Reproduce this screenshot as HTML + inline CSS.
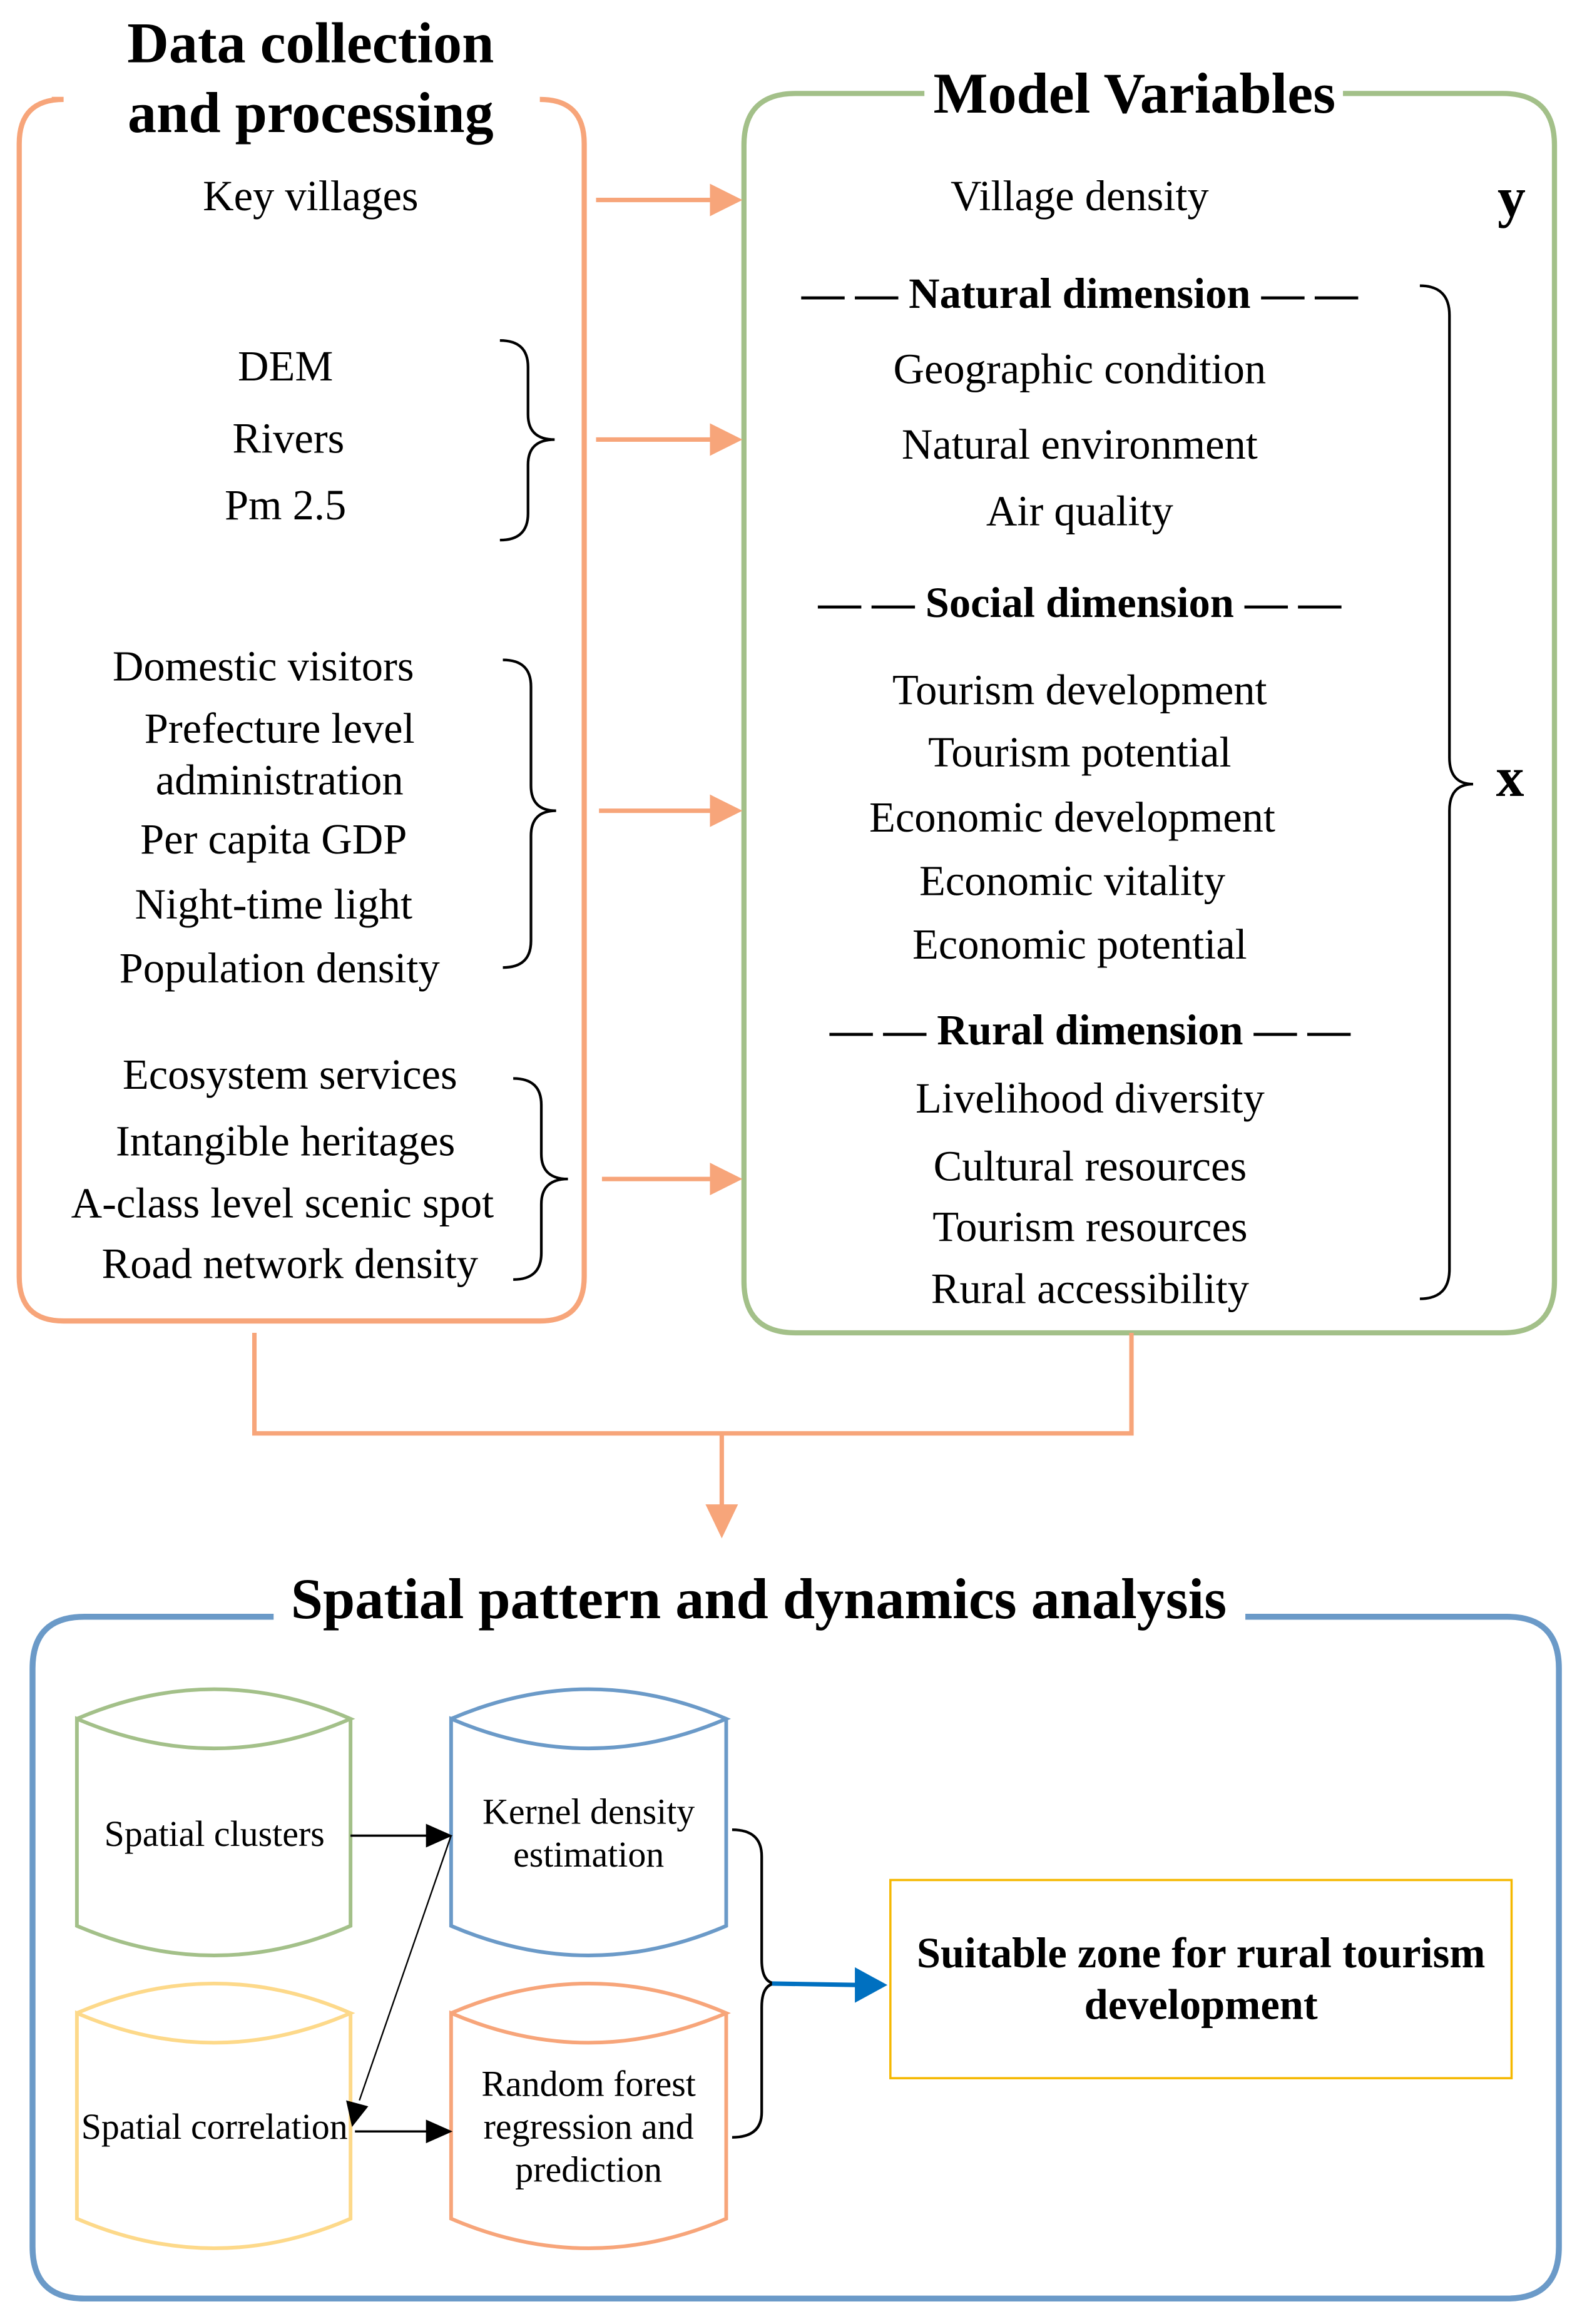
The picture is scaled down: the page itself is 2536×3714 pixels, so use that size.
<!DOCTYPE html>
<html><head><meta charset="utf-8"><style>
html,body{margin:0;padding:0;background:#fff}
svg{display:block}
text{font-family:"Liberation Serif","Times New Roman",serif;fill:#000}
.t{font-size:29px;text-anchor:middle}
.b{font-weight:bold}
.s{font-size:24.5px;text-anchor:middle}
</style></head><body>
<svg width="2536" height="3714" viewBox="0 0 1073 1571" xmlns="http://www.w3.org/2000/svg">
<!-- Orange box -->
<path d="M35,67 L43,67 Q13,67 13,97 L13,863 Q13,893 43,893 L365,893 Q395,893 395,863 L395,97 Q395,67 365,67" fill="none" stroke="#f7a57a" stroke-width="3.5"/>
<text x="210" y="42" class="b" style="font-size:39px;text-anchor:middle">Data collection</text>
<text x="210" y="89" class="b" style="font-size:39px;text-anchor:middle">and processing</text>
<!-- Green box -->
<path d="M625,63 L538,63 Q503,63 503,98 L503,866 Q503,901 538,901 L1016,901 Q1051,901 1051,866 L1051,98 Q1051,63 1016,63 L908,63" fill="none" stroke="#a3c089" stroke-width="3.5"/>
<text x="767" y="76" class="b" style="font-size:39px;text-anchor:middle">Model Variables</text>
<!-- orange arrows -->
<g stroke="#f7a57a" stroke-width="3" fill="#f7a57a">
<line x1="403" y1="135" x2="482" y2="135"/><path d="M480,124 L502,135 L480,146z" stroke="none"/>
<line x1="403" y1="297" x2="482" y2="297"/><path d="M480,286 L502,297 L480,308z" stroke="none"/>
<line x1="405" y1="548" x2="482" y2="548"/><path d="M480,537 L502,548 L480,559z" stroke="none"/>
<line x1="407" y1="797" x2="482" y2="797"/><path d="M480,786 L502,797 L480,808z" stroke="none"/>
</g>
<!-- left texts -->
<text x="210" y="142" class="t">Key villages</text>
<text x="193" y="257" class="t">DEM</text>
<text x="195" y="306" class="t">Rivers</text>
<text x="193" y="351" class="t">Pm 2.5</text>
<text x="178" y="460" class="t">Domestic visitors</text>
<text x="189" y="502" class="t">Prefecture level</text>
<text x="189" y="537" class="t">administration</text>
<text x="185" y="577" class="t">Per capita GDP</text>
<text x="185" y="621" class="t">Night-time light</text>
<text x="189" y="664" class="t">Population density</text>
<text x="196" y="736" class="t">Ecosystem services</text>
<text x="193" y="781" class="t">Intangible heritages</text>
<text x="191" y="823" class="t">A-class level scenic spot</text>
<text x="196" y="864" class="t">Road network density</text>
<!-- braces -->
<g fill="none" stroke="#000" stroke-width="1.8">
<path d="M338,230 Q357,230 357,248 L357,280 Q357,297 375,297 Q357,297 357,314 L357,347 Q357,365 338,365"/>
<path d="M340,446 Q359,446 359,464 L359,531 Q359,548 376,548 Q359,548 359,565 L359,636 Q359,654 340,654"/>
<path d="M347,729 Q366,729 366,747 L366,780 Q366,797 384,797 Q366,797 366,814 L366,847 Q366,865 347,865"/>
<path d="M960,193 Q980,193 980,213 L980,512 Q980,530 996,530 Q980,530 980,548 L980,858 Q980,878 960,878"/>
</g>
<!-- right texts -->
<text x="730" y="142" class="t">Village density</text>
<text x="1022" y="146" class="b" style="font-size:38px;text-anchor:middle">y</text>
<text x="1021" y="538" class="b" style="font-size:38px;text-anchor:middle">x</text>
<text x="730" y="208" class="t b">— — Natural dimension — —</text>
<text x="730" y="259" class="t">Geographic condition</text>
<text x="730" y="310" class="t">Natural environment</text>
<text x="730" y="355" class="t">Air quality</text>
<text x="730" y="417" class="t b">— — Social dimension — —</text>
<text x="730" y="476" class="t">Tourism development</text>
<text x="730" y="518" class="t">Tourism potential</text>
<text x="725" y="562" class="t">Economic development</text>
<text x="725" y="605" class="t">Economic vitality</text>
<text x="730" y="648" class="t">Economic potential</text>
<text x="737" y="706" class="t b">— — Rural dimension — —</text>
<text x="737" y="752" class="t">Livelihood diversity</text>
<text x="737" y="798" class="t">Cultural resources</text>
<text x="737" y="839" class="t">Tourism resources</text>
<text x="737" y="881" class="t">Rural accessibility</text>
<!-- connector -->
<path d="M172,901 L172,969 L765,969 L765,901" fill="none" stroke="#f7a57a" stroke-width="3"/>
<line x1="488" y1="969" x2="488" y2="1020" stroke="#f7a57a" stroke-width="3"/>
<path d="M477,1017 L488,1040 L499,1017z" fill="#f7a57a"/>
<!-- blue box -->
<path d="M185,1093 L57,1093 Q22,1093 22,1128 L22,1519 Q22,1554 57,1554 L1019,1554 Q1054,1554 1054,1519 L1054,1128 Q1054,1093 1019,1093 L842,1093" fill="none" stroke="#6b9ac8" stroke-width="4"/>
<text x="513" y="1094" class="b" style="font-size:39px;text-anchor:middle">Spatial pattern and dynamics analysis</text>
<!-- cylinders -->
<g fill="none" stroke-width="2.5">
<path d="M52,1162 Q145,1122 237,1162 Q145,1202 52,1162 L52,1302 Q145,1342 237,1302 L237,1162" stroke="#a3c089"/>
<path d="M305,1162 Q398,1122 491,1162 Q398,1202 305,1162 L305,1302 Q398,1342 491,1302 L491,1162" stroke="#6b9ac8"/>
<path d="M52,1361 Q145,1321 237,1361 Q145,1401 52,1361 L52,1500 Q145,1540 237,1500 L237,1361" stroke="#fdd98a"/>
<path d="M305,1361 Q398,1321 491,1361 Q398,1401 305,1361 L305,1500 Q398,1540 491,1500 L491,1361" stroke="#f7a57a"/>
</g>
<text x="145" y="1248" class="s">Spatial clusters</text>
<text x="398" y="1233" class="s">Kernel density</text>
<text x="398" y="1262" class="s">estimation</text>
<text x="145" y="1446" class="s">Spatial correlation</text>
<text x="398" y="1417" class="s">Random forest</text>
<text x="398" y="1446" class="s">regression and</text>
<text x="398" y="1475" class="s">prediction</text>
<!-- black arrows -->
<g stroke="#000" stroke-width="1.5">
<line x1="237" y1="1241" x2="290" y2="1241"/>
<line x1="240" y1="1441" x2="290" y2="1441"/>
<line x1="305" y1="1241" x2="243" y2="1420" stroke-width="1"/>
</g>
<path d="M288,1233 L306,1241 L288,1249z" fill="#000"/>
<path d="M288,1433 L306,1441 L288,1449z" fill="#000"/>
<path d="M234,1420 L238,1438 L249,1424z" fill="#000"/>
<path d="M495,1237 Q515,1237 515,1255 L515,1325 Q515,1341 525,1341 Q515,1341 515,1357 L515,1428 Q515,1445 495,1445" fill="none" stroke="#000" stroke-width="1.8"/>
<line x1="522" y1="1341" x2="582" y2="1342" stroke="#0070c0" stroke-width="3"/>
<path d="M578,1330 L600,1342 L578,1354z" fill="#0070c0"/>
<rect x="602" y="1271" width="420" height="134" fill="none" stroke="#f5b800" stroke-width="1.5"/>
<text x="812" y="1330" class="t b">Suitable zone for rural tourism</text>
<text x="812" y="1365" class="t b">development</text>
</svg>
</body></html>
